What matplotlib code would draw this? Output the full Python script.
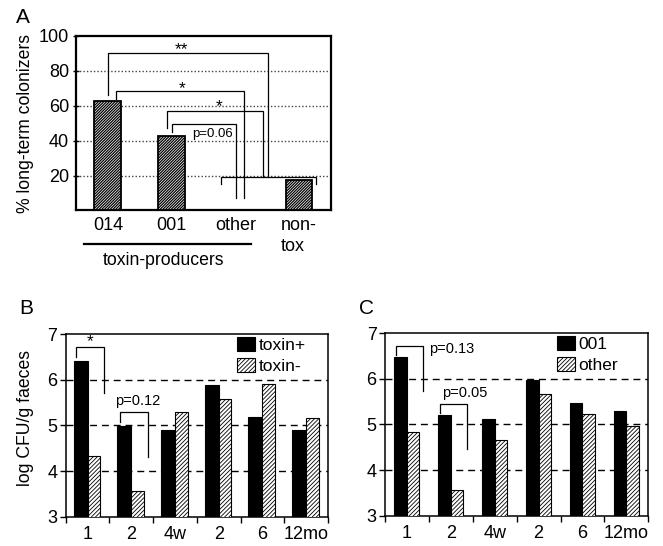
import numpy as np
import matplotlib
matplotlib.use("Agg")
import matplotlib.pyplot as plt

plt.rcParams['font.family'] = ['Liberation Sans', 'DejaVu Sans']

# Panel A data
a_groups = ['014', '001', 'other', 'non-\ntox']
a_values = [62.7, 42.7, 0, 17.4]

# Panel B / C data
time_labels = ['1', '2', '4w', '2', '6', '12mo']
b_toxin_pos = [6.42, 4.98, 4.89, 5.89, 5.18, 4.89]
b_toxin_neg = [4.34, 3.57, 5.29, 5.57, 5.90, 5.17]
c_001 = [6.47, 5.20, 5.13, 5.98, 5.47, 5.29]
c_other = [4.83, 3.57, 4.65, 5.67, 5.23, 4.96]

fig = plt.figure(figsize=(6.63, 5.46), dpi=100)


def bracket(ax, x0, x1, ytop, yl, yr, lw=0.9):
    ax.plot([x0, x0, x1, x1], [yl, ytop, ytop, yr], color='k', lw=lw,
            solid_joinstyle='miter', clip_on=False, zorder=5)


# ---------------- Panel A ----------------
axA = fig.add_axes([0.1146, 0.6145, 0.3846, 0.3196])
plt.rcParams['hatch.linewidth'] = 0.9
xa = np.arange(len(a_groups))
axA.bar(xa, a_values, width=0.42, color='white', edgecolor='k', hatch='/' * 12,
        linewidth=1.3, zorder=3)
axA.set_xlim(-0.5, 3.5)
axA.set_ylim(0, 100)
axA.set_yticks([20, 40, 60, 80, 100])
for y in [20, 40, 60, 80]:
    axA.axhline(y, color='#444444', lw=1.0, ls=(0, (1, 1.5)), zorder=1)
axA.set_xticks(xa)
axA.set_xticklabels(a_groups, fontsize=13, linespacing=1.3, multialignment='left')
axA.tick_params(axis='x', length=0, pad=5)
axA.tick_params(axis='y', direction='inout', length=4, width=1, labelsize=13, pad=3)
for s in axA.spines.values():
    s.set_linewidth(1.6)
axA.set_ylabel('% long-term colonizers', fontsize=12.7)
axA.yaxis.set_label_coords(-0.165, 0.5)

# significance brackets
bracket(axA, 0.0, 2.52, 90.2, 66.0, 19.3)
bracket(axA, 0.13, 2.13, 68.5, 63.7, 7.1)
bracket(axA, 0.93, 2.44, 56.9, 47.5, 19.3)
bracket(axA, 1.01, 2.01, 49.3, 45.0, 7.1)
bracket(axA, 1.77, 3.27, 19.3, 15.1, 15.1)
axA.text(1.16, 89.5, '**', ha='center', va='baseline', fontsize=12.5)
axA.text(1.16, 67.0, '*', ha='center', va='baseline', fontsize=12.5)
axA.text(1.74, 57.0, '*', ha='center', va='baseline', fontsize=12.5)
axA.text(1.32, 44.1, 'p=0.06', ha='left', va='center', fontsize=9.5,
         bbox=dict(facecolor='white', edgecolor='none', pad=0.5), zorder=4)

# toxin-producers underline
trans = axA.get_xaxis_transform()
axA.plot([-0.37, 2.25], [-0.194, -0.194], color='k', lw=1.6, transform=trans,
         clip_on=False)
axA.text(0.87, -0.289, 'toxin-producers', ha='center', va='center', fontsize=12.7,
         transform=trans)

fig.text(16 / 663, 1 - 22.7 / 546, 'A', fontsize=15, ha='left', va='baseline')


# ---------------- Panels B, C ----------------
def time_panel(rect, black_vals, hatch_vals, wb, wh, labels, letter, lpos):
    ax = fig.add_axes(rect)
    plt.rcParams['hatch.linewidth'] = 0.6
    x = np.arange(len(time_labels))
    for y in [4, 5, 6]:
        ax.axhline(y, color='k', lw=1.0, ls=(0, (5, 3.5)), zorder=1)
    ax.bar(x - wb, black_vals, width=wb, align='edge', color='k',
           edgecolor='k', linewidth=0.8, zorder=3, label=labels[0])
    ax.bar(x, hatch_vals, width=wh, align='edge', color='white',
           edgecolor='k', hatch='/' * 8, linewidth=0.8, zorder=3, label=labels[1])
    ax.set_xlim(-0.5, 5.5)
    ax.set_ylim(3, 7)
    ax.set_yticks([3, 4, 5, 6, 7])
    ax.set_xticks(np.arange(-0.5, 6, 1))
    ax.set_xticklabels([])
    ax.set_xticks(x, minor=True)
    ax.set_xticklabels(time_labels, minor=True, fontsize=13)
    ax.tick_params(axis='x', which='major', length=4.5, width=1)
    ax.tick_params(axis='x', which='minor', length=0, pad=6.5)
    ax.tick_params(axis='y', length=4, width=1, labelsize=13, pad=2)
    for s in ax.spines.values():
        s.set_linewidth(1.1)
    ax.legend(loc='upper left', bbox_to_anchor=(0.655, 0.985), frameon=False,
              fontsize=12.5, handlelength=1.0, handleheight=0.9,
              handletextpad=0.2, labelspacing=0.25, borderpad=0,
              borderaxespad=0)
    fig.text(lpos[0] / 663, 1 - lpos[1] / 546, letter, fontsize=15,
             ha='left', va='baseline')
    return ax


axB = time_panel([0.0991, 0.0537, 0.3956, 0.3341], b_toxin_pos, b_toxin_neg,
                 0.32, 0.29, ['toxin+', 'toxin-'], 'B', (19.3, 314))
axB.set_ylabel('log CFU/g faeces', fontsize=12.7)
axB.yaxis.set_label_coords(-0.12, 0.54)
bracket(axB, -0.26, 0.37, 6.71, 6.50, 5.71)
axB.text(0.05, 6.74, '*', ha='center', va='baseline', fontsize=12.5)
bracket(axB, 0.75, 1.375, 5.29, 5.07, 4.30)
axB.text(1.15, 5.53, 'p=0.12', ha='center', va='center', fontsize=10.5)

axC = time_panel([0.5807, 0.0555, 0.3971, 0.3341], c_001, c_other,
                 0.29, 0.28, ['001', 'other'], 'C', (359.3, 314.3))
bracket(axC, -0.26, 0.37, 6.73, 6.53, 5.74)
axC.text(0.50, 6.66, 'p=0.13', ha='left', va='center', fontsize=10.5)
bracket(axC, 0.75, 1.38, 5.45, 5.25, 4.46)
axC.text(0.79, 5.70, 'p=0.05', ha='left', va='center', fontsize=10.5)

fig.savefig('out.png', dpi=100)
